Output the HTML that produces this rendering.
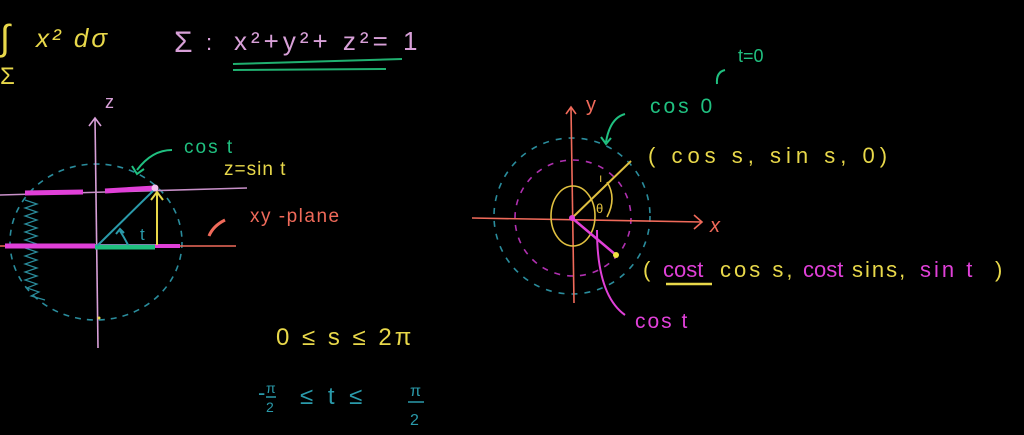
<!DOCTYPE html>
<html><head><meta charset="utf-8"><style>
html,body{margin:0;padding:0;background:#000;}
svg{display:block;}
text{font-family:"Liberation Sans",sans-serif;}
</style></head><body>
<svg width="1024" height="435" viewBox="0 0 1024 435" xmlns="http://www.w3.org/2000/svg">
<rect width="1024" height="435" fill="#000"/>
<text x="0" y="50" font-size="36" fill="#e8d84a" font-family="Liberation Serif">∫</text>
<text x="0" y="84" font-size="24" fill="#e8d84a">Σ</text>
<text x="36" y="47" font-size="26" fill="#e8d84a" font-style="italic" letter-spacing="3">x² dσ</text>
<text x="174" y="52" font-size="30" fill="#d8a0d8">Σ</text>
<text x="206" y="50" font-size="22" fill="#d8a0d8">:</text>
<text x="234" y="50" font-size="26" fill="#d8a0d8" letter-spacing="4">x²+y²+ z²= 1</text>
<line x1="233" y1="64" x2="402" y2="59" stroke="#20b070" stroke-width="2"/>
<line x1="233" y1="70" x2="386" y2="69" stroke="#20b070" stroke-width="2"/>
<ellipse cx="96" cy="242" rx="86" ry="78" fill="none" stroke="#2a8c9c" stroke-width="1.6" stroke-dasharray="6,6"/>
<path d="M25 200 l12 4 -12 4 12 4 -12 4 12 4 -12 4 12 4 -12 4 12 4 -12 4 12 4 -12 4 12 4 -12 4 12 4 -12 4 12 4 -12 4 12 4 -12 4 12 4 -10 4 12 4 -8 4 14 4" fill="none" stroke="#2a8c9c" stroke-width="1.2"/>
<line x1="95" y1="118" x2="98" y2="348" stroke="#d8a0d8" stroke-width="1.6"/>
<path d="M89 126 l6 -8 6 8" fill="none" stroke="#d8a0d8" stroke-width="1.6"/>
<text x="105" y="108" font-size="18" fill="#d8a0d8">z</text>
<line x1="0" y1="195" x2="247" y2="188" stroke="#c890c8" stroke-width="1.6"/>
<line x1="25" y1="193" x2="83" y2="192" stroke="#e040d8" stroke-width="5"/>
<line x1="105" y1="191" x2="155" y2="188" stroke="#e040d8" stroke-width="5"/>
<line x1="0" y1="246" x2="236" y2="246" stroke="#f06a5a" stroke-width="1.6"/>
<line x1="5" y1="246" x2="95" y2="246" stroke="#e040d8" stroke-width="5"/>
<line x1="95" y1="246" x2="180" y2="246" stroke="#e040d8" stroke-width="4"/>
<line x1="95" y1="247" x2="155" y2="247" stroke="#20c080" stroke-width="5"/>
<line x1="97" y1="246" x2="154" y2="190" stroke="#2a9aaa" stroke-width="2"/>
<path d="M128 245 q-4 -8 -8 -14 m-4 3 l4 -5 4 4" fill="none" stroke="#2a9aaa" stroke-width="2"/>
<text x="140" y="240" font-size="17" fill="#2a9aaa">t</text>
<line x1="157" y1="245" x2="157" y2="192" stroke="#e8d84a" stroke-width="2"/>
<path d="M151 200 l6 -8 6 8" fill="none" stroke="#e8d84a" stroke-width="2"/>
<circle cx="155" cy="188" r="3.5" fill="#f0c0f0"/>
<circle cx="99" cy="318" r="1.5" fill="#e8d84a"/>
<path d="M172 150 q-20 0 -35 20 m-5 -4 l5 8 7 -5" fill="none" stroke="#20c080" stroke-width="2"/>
<text x="184" y="153" font-size="19" fill="#20c080" letter-spacing="2">cos t</text>
<text x="224" y="175" font-size="19" fill="#e8d84a" letter-spacing="1">z=sin t</text>
<path d="M225 220 q-12 6 -16 16" fill="none" stroke="#f06a5a" stroke-width="3"/>
<text x="250" y="222" font-size="19" fill="#f06a5a" letter-spacing="1.5">xy -plane</text>
<text x="276" y="345" font-size="24" fill="#e8d84a" letter-spacing="3">0 ≤  s ≤  2π</text>
<text x="258" y="400" font-size="22" fill="#2a9aaa">-</text>
<text x="266" y="393" font-size="14" fill="#2a9aaa">π</text>
<line x1="266" y1="397" x2="276" y2="397" stroke="#2a9aaa" stroke-width="1.5"/>
<text x="266" y="412" font-size="14" fill="#2a9aaa">2</text>
<text x="300" y="404" font-size="24" fill="#2a9aaa" letter-spacing="4">≤ t ≤</text>
<text x="410" y="396" font-size="16" fill="#2a9aaa">π</text>
<line x1="408" y1="402" x2="424" y2="402" stroke="#2a9aaa" stroke-width="1.5"/>
<text x="410" y="425" font-size="16" fill="#2a9aaa">2</text>
<circle cx="572" cy="216" r="78" fill="none" stroke="#2a8c9c" stroke-width="1.6" stroke-dasharray="6,7"/>
<circle cx="573" cy="218" r="58" fill="none" stroke="#b030b0" stroke-width="1.6" stroke-dasharray="6,7"/>
<line x1="472" y1="218" x2="702" y2="222" stroke="#f06a5a" stroke-width="1.6"/>
<path d="M694 215 l8 7 -8 7" fill="none" stroke="#f06a5a" stroke-width="1.6"/>
<text x="710" y="232" font-size="20" fill="#f06a5a" font-style="italic">x</text>
<line x1="571" y1="108" x2="574" y2="303" stroke="#f06a5a" stroke-width="1.6"/>
<path d="M566 114 l5 -7 5 7" fill="none" stroke="#f06a5a" stroke-width="1.6"/>
<text x="586" y="111" font-size="20" fill="#f06a5a">y</text>
<ellipse cx="573" cy="216" rx="22" ry="30" fill="none" stroke="#e0c040" stroke-width="1.6"/>
<path d="M607 182 q10 16 0 35" fill="none" stroke="#e0c040" stroke-width="1.6"/>
<text x="596" y="213" font-size="13" fill="#e0c040">θ</text>
<line x1="572" y1="218" x2="631" y2="161" stroke="#e0c040" stroke-width="2"/>
<text x="599" y="182" font-size="12" fill="#e0c040">ı</text>
<line x1="572" y1="218" x2="616" y2="255" stroke="#e040d8" stroke-width="2.5"/>
<circle cx="616" cy="255" r="3" fill="#f0e040"/>
<circle cx="572" cy="218" r="3" fill="#e040d8"/>
<path d="M625 114 q-15 4 -19 28 m-5 -5 l5 7 5 -6" fill="none" stroke="#20c080" stroke-width="2"/>
<text x="650" y="113" font-size="21" fill="#20c080" letter-spacing="3">cos 0</text>
<path d="M725 70 q-9 2 -8 14" fill="none" stroke="#20c080" stroke-width="2"/>
<text x="738" y="62" font-size="18" fill="#20c080">t=0</text>
<text x="648" y="163" font-size="22" fill="#e8d84a" letter-spacing="5">( cos s, sin s, 0)</text>
<path d="M625 315 q-28 -20 -28 -85" fill="none" stroke="#e040d8" stroke-width="2"/>
<text x="635" y="328" font-size="21" fill="#e040d8" letter-spacing="2">cos t</text>
<text x="643" y="277" font-size="22" fill="#e8d84a">(</text>
<text x="663" y="277" font-size="22" fill="#e040d8">cost</text>
<line x1="666" y1="284" x2="712" y2="284" stroke="#e8d84a" stroke-width="2.5"/>
<text x="720" y="277" font-size="22" fill="#e8d84a" letter-spacing="3">cos s,</text>
<text x="803" y="277" font-size="22" fill="#e040d8">cost</text>
<text x="852" y="277" font-size="22" fill="#e8d84a" letter-spacing="2">sins,</text>
<text x="920" y="277" font-size="22" fill="#e040d8" letter-spacing="3">sin t</text>
<text x="995" y="277" font-size="22" fill="#e8d84a">)</text>
</svg>
</body></html>
